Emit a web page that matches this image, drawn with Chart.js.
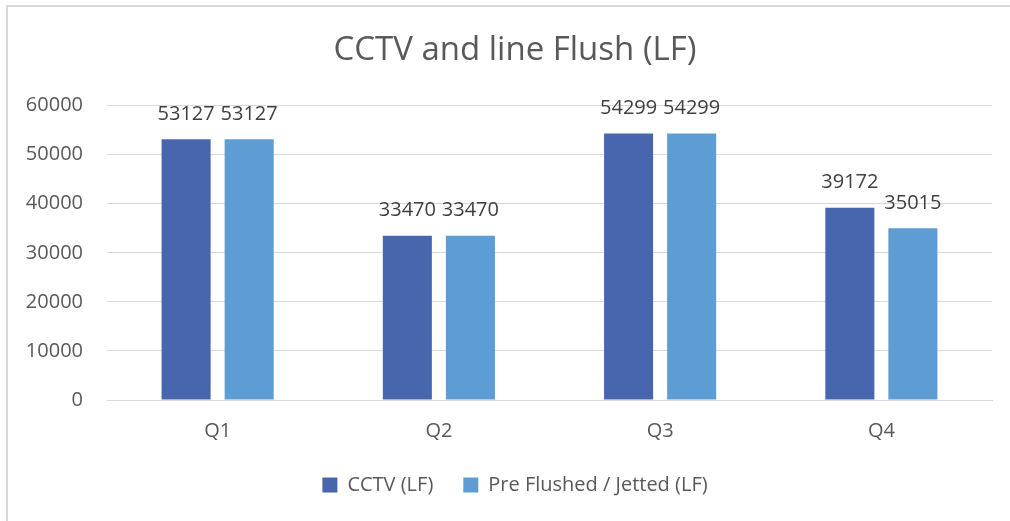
<!DOCTYPE html>
<html>
<head>
<meta charset="utf-8">
<script src="https://cdn.jsdelivr.net/npm/chart.js@4.4.1/dist/chart.umd.min.js"></script>
<style>
  html, body { margin: 0; padding: 0; background: #ffffff; }
  #wrap { width: 1010px; height: 521px; position: relative; }
</style>
</head>
<body>
<div id="wrap"><canvas id="myChart" width="1010" height="521"></canvas></div>
<script>
// data
const quarters = ["Q1", "Q2", "Q3", "Q4"];
const cctvLF = [53127, 33470, 54299, 39172];
const preFlushedLF = [53127, 33470, 54299, 35015];
const yTicks = [0, 10000, 20000, 30000, 40000, 50000, 60000];

const textGrey = "#595959";
const fontFamily = "'Open Sans', 'Noto Sans', sans-serif";

// thin grey frame on top and left, like the office chart border
const framePlugin = {
  id: "frame",
  beforeDraw(chart) {
    const c = chart.ctx;
    c.save();
    c.fillStyle = "#d9d9d9";
    c.fillRect(6, 5, 1010, 2);
    c.fillRect(6, 5, 2, 521);
    c.restore();
  },
};

// value labels over each bar
const valueLabels = {
  id: "valueLabels",
  afterDatasetsDraw(chart) {
    const c = chart.ctx;
    c.save();
    c.font = "20px " + fontFamily;
    c.fillStyle = "#404040";
    c.textAlign = "center";
    c.textBaseline = "middle";
    chart.data.datasets.forEach((ds, i) => {
      chart.getDatasetMeta(i).data.forEach((bar, j) => {
        c.fillText(String(ds.data[j]), bar.x, bar.y - 25);
      });
    });
    c.restore();
  },
};

const ctx = document.getElementById("myChart").getContext("2d");
new Chart(ctx, {
  type: "bar",
  data: {
    labels: quarters,
    datasets: [
      {
        label: "CCTV (LF)",
        data: cctvLF,
        backgroundColor: "#4866ae",
        categoryPercentage: 0.57,
        barPercentage: 0.778,
      },
      {
        label: "Pre Flushed / Jetted (LF)",
        data: preFlushedLF,
        backgroundColor: "#5e9dd3",
        categoryPercentage: 0.57,
        barPercentage: 0.778,
      },
    ],
  },
  options: {
    responsive: false,
    animation: false,
    layout: { padding: { left: 20, right: 0, top: 0, bottom: 16 } },
    plugins: {
      title: {
        display: true,
        text: "CCTV and line Flush (LF)",
        color: textGrey,
        font: { family: fontFamily, size: 33, weight: "normal" },
        padding: { top: 31, bottom: 35 },
      },
      legend: {
        position: "bottom",
        labels: {
          color: textGrey,
          font: { family: fontFamily, size: 20 },
          boxWidth: 15,
          boxHeight: 15,
          padding: 30,
        },
      },
      tooltip: { enabled: false },
    },
    scales: {
      x: {
        grid: { display: false },
        border: { display: true, color: "#d9d9d9" },
        ticks: { color: textGrey, font: { family: fontFamily, size: 20 }, padding: 11 },
        afterFit(scale) { scale.height = 45; },
      },
      y: {
        min: yTicks[0],
        max: yTicks[yTicks.length - 1],
        grid: { color: "#d9d9d9", drawTicks: false },
        border: { display: false },
        ticks: {
          stepSize: yTicks[1] - yTicks[0],
          color: textGrey,
          font: { family: fontFamily, size: 20 },
          padding: 24,
          callback: (v) => String(v),
        },
        afterFit(scale) { scale.width = 87; },
      },
      y2: {
        position: "right",
        display: true,
        grid: { display: false },
        border: { display: false },
        ticks: { display: false },
        afterFit(scale) { scale.width = 18; },
      },
    },
  },
  plugins: [framePlugin, valueLabels],
});
</script>
</body>
</html>
